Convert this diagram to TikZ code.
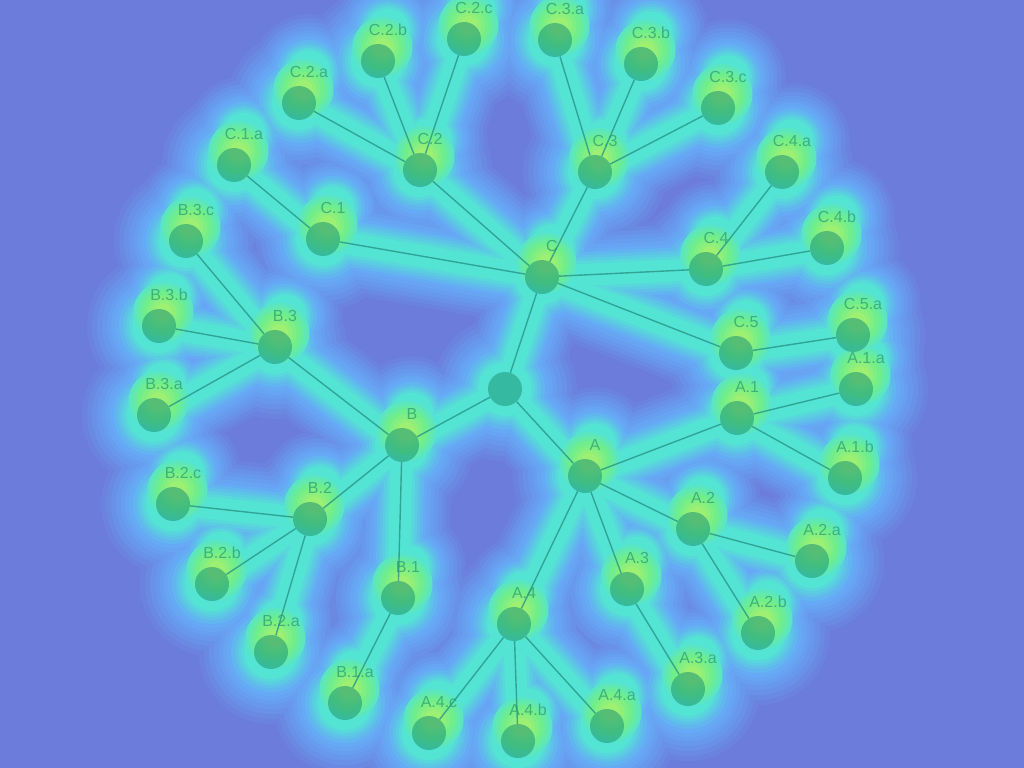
\documentclass[tikz,border=0pt]{standalone}
\usepackage{fontspec}
\setmainfont{Liberation Sans}
\usetikzlibrary{calc}
\definecolor{bgc}{RGB}{108,124,218}
\definecolor{lbl}{RGB}{102,170,246}
\definecolor{cya}{RGB}{84,228,212}
\definecolor{grn}{RGB}{112,238,140}
\definecolor{yel}{RGB}{215,242,85}
\definecolor{nodec}{RGB}{28,150,118}
\definecolor{edgec}{RGB}{38,150,135}
\definecolor{labc}{RGB}{40,152,112}
\pgfdeclarelayer{back}
\pgfdeclarelayer{glow}
\pgfdeclarelayer{edge}
\pgfsetlayers{back,glow,edge,main}
\newcommand\tn[4]{\node[dot] (#1) at (#2,#3) {}; \node[lab] (#1-l) at ($(#1)+(10,-31)$) {#4};}
\def\edgelist{root/C, root/B, root/A, C/C1, C/C2, C/C3, C/C4, C/C5, C1/C1a, C2/C2a, C2/C2b, C2/C2c, C3/C3a, C3/C3b, C3/C3c, C4/C4a, C4/C4b, C5/C5a, B/B1, B/B2, B/B3, B1/B1a, B2/B2a, B2/B2b, B2/B2c, B3/B3a, B3/B3b, B3/B3c, A/A1, A/A2, A/A3, A/A4, A1/A1a, A1/A1b, A2/A2a, A2/A2b, A3/A3a, A4/A4a, A4/A4b, A4/A4c}
\def\labnodes{C, C1, C2, C3, C4, C5, C1a, C2a, C2b, C2c, C3a, C3b, C3c, C4a, C4b, C5a, B, B1, B2, B3, B1a, B2a, B2b, B2c, B3a, B3b, B3c, A, A1, A2, A3, A4, A1a, A1b, A2a, A2b, A3a, A4a, A4b, A4c}
\begin{document}
\begin{tikzpicture}[x=1pt,y=-1pt,
  dot/.style={circle,inner sep=0pt,minimum size=34pt,fill=nodec,fill opacity=0.55,draw=none},
  lab/.style={font=\fontsize{16}{16}\selectfont,text=labc,text opacity=0.7,inner sep=0pt},
  link/.style={draw=edgec,line width=1.4pt,draw opacity=0.8}]
\useasboundingbox (0,0) rectangle (1024,767.6);
\begin{pgfonlayer}{back}
\fill[bgc] (-30,-30) rectangle (1054,798);
\end{pgfonlayer}
\node[dot] (root) at (505,389) {};
\tn{C}{542}{277}{C}
\tn{B}{402}{445}{B}
\tn{A}{585}{476}{A}
\tn{C1}{323}{239}{C.1}
\tn{C2}{420}{170}{C.2}
\tn{C3}{595}{172}{C.3}
\tn{C4}{706}{269}{C.4}
\tn{C5}{736}{353}{C.5}
\tn{C1a}{234}{165}{C.1.a}
\tn{C2a}{299}{103}{C.2.a}
\tn{C2b}{378}{61}{C.2.b}
\tn{C2c}{464}{39}{C.2.c}
\tn{C3a}{555}{40}{C.3.a}
\tn{C3b}{641}{64}{C.3.b}
\tn{C3c}{718}{108}{C.3.c}
\tn{C4a}{782}{172}{C.4.a}
\tn{C4b}{827}{248}{C.4.b}
\tn{C5a}{853}{335}{C.5.a}
\tn{B1}{398}{598}{B.1}
\tn{B2}{310}{519}{B.2}
\tn{B3}{275}{347}{B.3}
\tn{B1a}{345}{703}{B.1.a}
\tn{B2a}{271}{652}{B.2.a}
\tn{B2b}{212}{584}{B.2.b}
\tn{B2c}{173}{504}{B.2.c}
\tn{B3a}{154}{415}{B.3.a}
\tn{B3b}{159}{326}{B.3.b}
\tn{B3c}{186}{241}{B.3.c}
\tn{A1}{737}{418}{A.1}
\tn{A2}{693}{529}{A.2}
\tn{A3}{627}{589}{A.3}
\tn{A4}{514}{624}{A.4}
\tn{A1a}{856}{389}{A.1.a}
\tn{A1b}{845}{478}{A.1.b}
\tn{A2a}{812}{561}{A.2.a}
\tn{A2b}{758}{633}{A.2.b}
\tn{A3a}{688}{689}{A.3.a}
\tn{A4a}{607}{726}{A.4.a}
\tn{A4b}{518}{741}{A.4.b}
\tn{A4c}{429}{733}{A.4.c}
\begin{pgfonlayer}{glow}
\foreach \w/\r/\c in {100/72/{lbl!15!bgc}, 92/67/{lbl!30!bgc}, 84/62/{lbl!45!bgc}, 76/57/{lbl!60!bgc}, 68/52/{lbl!75!bgc}, 60/48/{lbl!90!bgc}, 52/44/lbl, 46/40/{cya!20!lbl}, 40/36/{cya!40!lbl}, 34/33/{cya!60!lbl}, 28/30/{cya!80!lbl}, 22/27/cya} {
  \draw[line width=\w pt, color=\c, line cap=round] \foreach \a/\b in \edgelist {(\a.center) -- (\b.center)};
  \fill[color=\c] (root.center) circle (\r) \foreach \n in \labnodes {(\n.center) circle (\r) (\n-l.center) circle ({0.8*\r})};
}
\foreach \r/\c in {30/{grn!25!cya}, 27/{grn!50!cya}, 24/{grn!75!cya}, 21/grn, 17/{yel!15!grn}, 13/{yel!30!grn}, 9/{yel!45!grn}} {
  \fill[color=\c] \foreach \n in \labnodes {($(\n.center)!0.45!(\n-l.center)$) circle (\r)};
}
\end{pgfonlayer}
\begin{pgfonlayer}{edge}
\foreach \a/\b in \edgelist {\draw[link] (\a) -- (\b);}
\end{pgfonlayer}
\end{tikzpicture}
\end{document}
